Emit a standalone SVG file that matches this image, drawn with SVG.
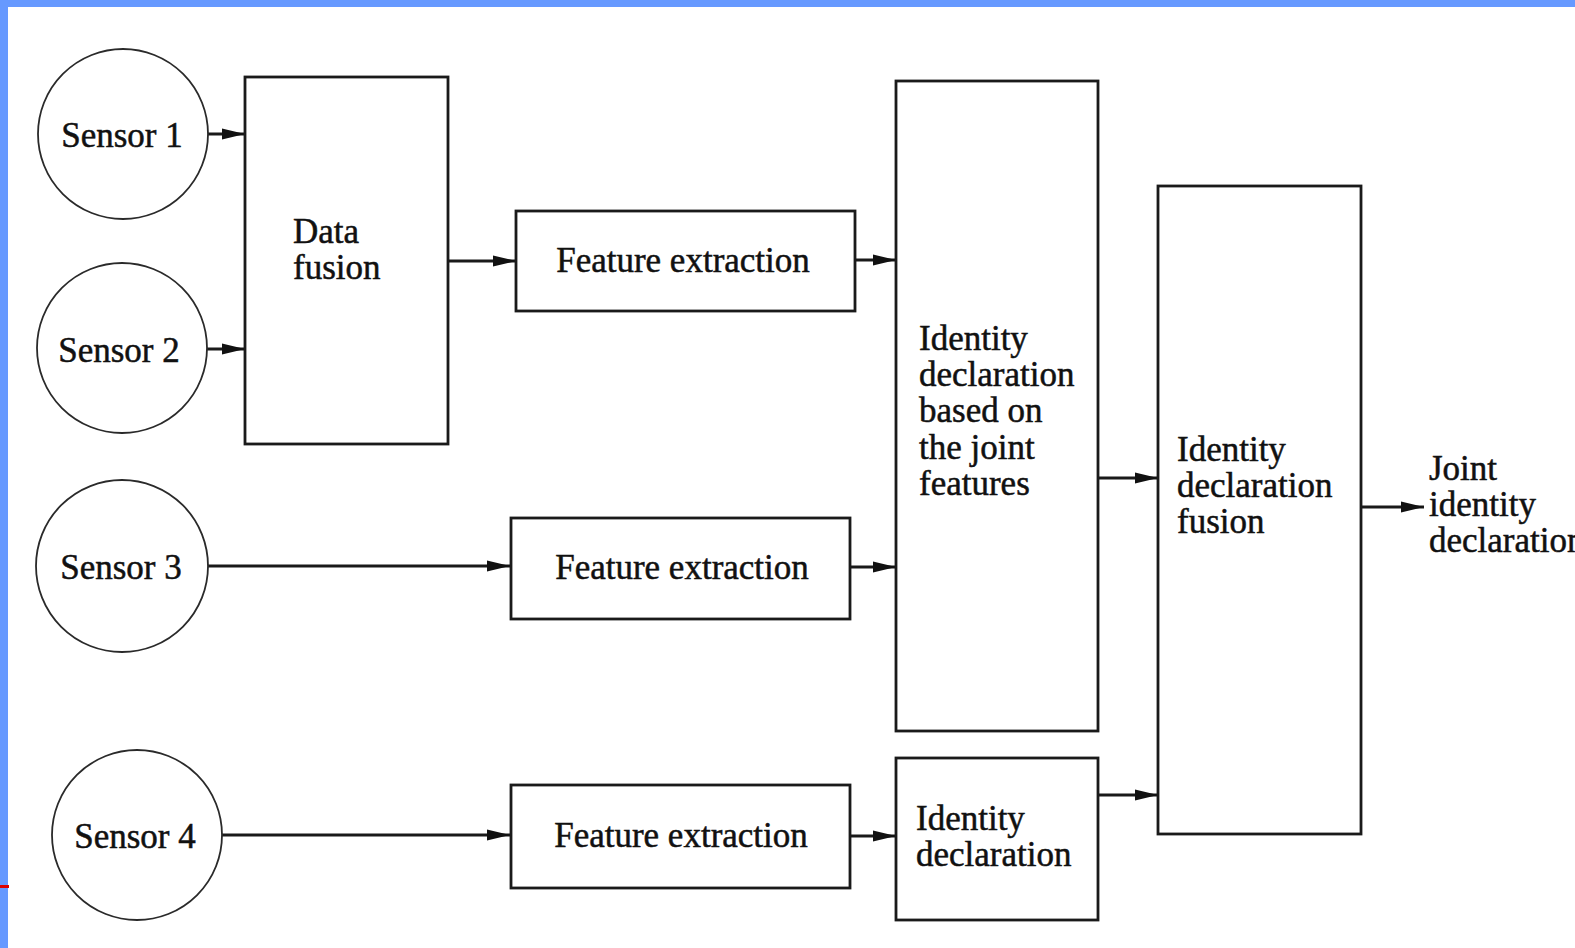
<svg xmlns="http://www.w3.org/2000/svg" width="1575" height="948" viewBox="0 0 1575 948">
  <defs>
    <style>
      .frame { fill: #6699ff; }
      .node { fill: #ffffff; stroke: #1a1a1a; stroke-width: 2.8; }
      .sensor { fill: #ffffff; stroke: #2a2a2a; stroke-width: 1.8; }
      .label { font-family: "Liberation Serif", "Times New Roman", serif; font-size: 35px; fill: #111111; stroke: #111111; stroke-width: 0.5; }
      .mid { text-anchor: middle; }
      .link { fill: none; stroke: #1a1a1a; stroke-width: 2.8; marker-end: url(#arrow); }
    </style>
    <marker id="arrow" markerUnits="userSpaceOnUse" markerWidth="24" markerHeight="12" refX="23" refY="6" orient="auto">
      <path d="M0,0.5 L23,6 L0,11.5 z" fill="#111111"/>
    </marker>
  </defs>

  <!-- page background and slide frame -->
  <rect x="0" y="0" width="1575" height="948" fill="#ffffff"/>
  <rect class="frame" x="0" y="0" width="1575" height="7"/>
  <rect class="frame" x="0" y="0" width="8" height="948"/>
  <rect x="0" y="885" width="9" height="3" fill="#dd0000"/>

  <!-- connectors -->
  <g id="connectors">
    <line class="link" x1="208" y1="134" x2="245" y2="134"/>
    <line class="link" x1="207" y1="349" x2="245" y2="349"/>
    <line class="link" x1="448" y1="261" x2="516" y2="261"/>
    <line class="link" x1="855" y1="260" x2="896" y2="260"/>
    <line class="link" x1="207" y1="566" x2="510" y2="566"/>
    <line class="link" x1="850" y1="567" x2="896" y2="567"/>
    <line class="link" x1="222" y1="835" x2="510" y2="835"/>
    <line class="link" x1="850" y1="836" x2="896" y2="836"/>
    <line class="link" x1="1098" y1="478" x2="1158" y2="478"/>
    <line class="link" x1="1098" y1="795" x2="1158" y2="795"/>
    <line class="link" x1="1361" y1="507" x2="1424" y2="507"/>
  </g>

  <!-- sensors -->
  <g id="sensor1">
    <circle class="sensor" cx="123" cy="134" r="85"/>
    <text class="label mid" x="122" y="147">Sensor 1</text>
  </g>
  <g id="sensor2">
    <circle class="sensor" cx="122" cy="348" r="85"/>
    <text class="label mid" x="119" y="362">Sensor 2</text>
  </g>
  <g id="sensor3">
    <circle class="sensor" cx="122" cy="566" r="86"/>
    <text class="label mid" x="121" y="579">Sensor 3</text>
  </g>
  <g id="sensor4">
    <circle class="sensor" cx="137" cy="835" r="85"/>
    <text class="label mid" x="135" y="848">Sensor 4</text>
  </g>

  <!-- processing blocks -->
  <g id="data-fusion">
    <rect class="node" x="245" y="77" width="203" height="367"/>
    <text class="label" x="293" y="243">Data</text>
    <text class="label" x="293" y="279">fusion</text>
  </g>
  <g id="feature-extraction-1">
    <rect class="node" x="516" y="211" width="339" height="100"/>
    <text class="label mid" x="683" y="272">Feature extraction</text>
  </g>
  <g id="feature-extraction-2">
    <rect class="node" x="511" y="518" width="339" height="101"/>
    <text class="label mid" x="682" y="579">Feature extraction</text>
  </g>
  <g id="feature-extraction-3">
    <rect class="node" x="511" y="785" width="339" height="103"/>
    <text class="label mid" x="681" y="847">Feature extraction</text>
  </g>
  <g id="joint-identity-declaration">
    <rect class="node" x="896" y="81" width="202" height="650"/>
    <text class="label" x="919" y="350">Identity</text>
    <text class="label" x="919" y="386">declaration</text>
    <text class="label" x="919" y="422">based on</text>
    <text class="label" x="919" y="459">the joint</text>
    <text class="label" x="919" y="495">features</text>
  </g>
  <g id="identity-declaration">
    <rect class="node" x="896" y="758" width="202" height="162"/>
    <text class="label" x="916" y="830">Identity</text>
    <text class="label" x="916" y="866">declaration</text>
  </g>
  <g id="identity-declaration-fusion">
    <rect class="node" x="1158" y="186" width="203" height="648"/>
    <text class="label" x="1177" y="461">Identity</text>
    <text class="label" x="1177" y="497">declaration</text>
    <text class="label" x="1177" y="533">fusion</text>
  </g>

  <!-- output label, running off the right edge of the page -->
  <g id="output">
    <text class="label" x="1429" y="480">Joint</text>
    <text class="label" x="1429" y="516">identity</text>
    <text class="label" x="1429" y="552">declaration</text>
  </g>
</svg>
